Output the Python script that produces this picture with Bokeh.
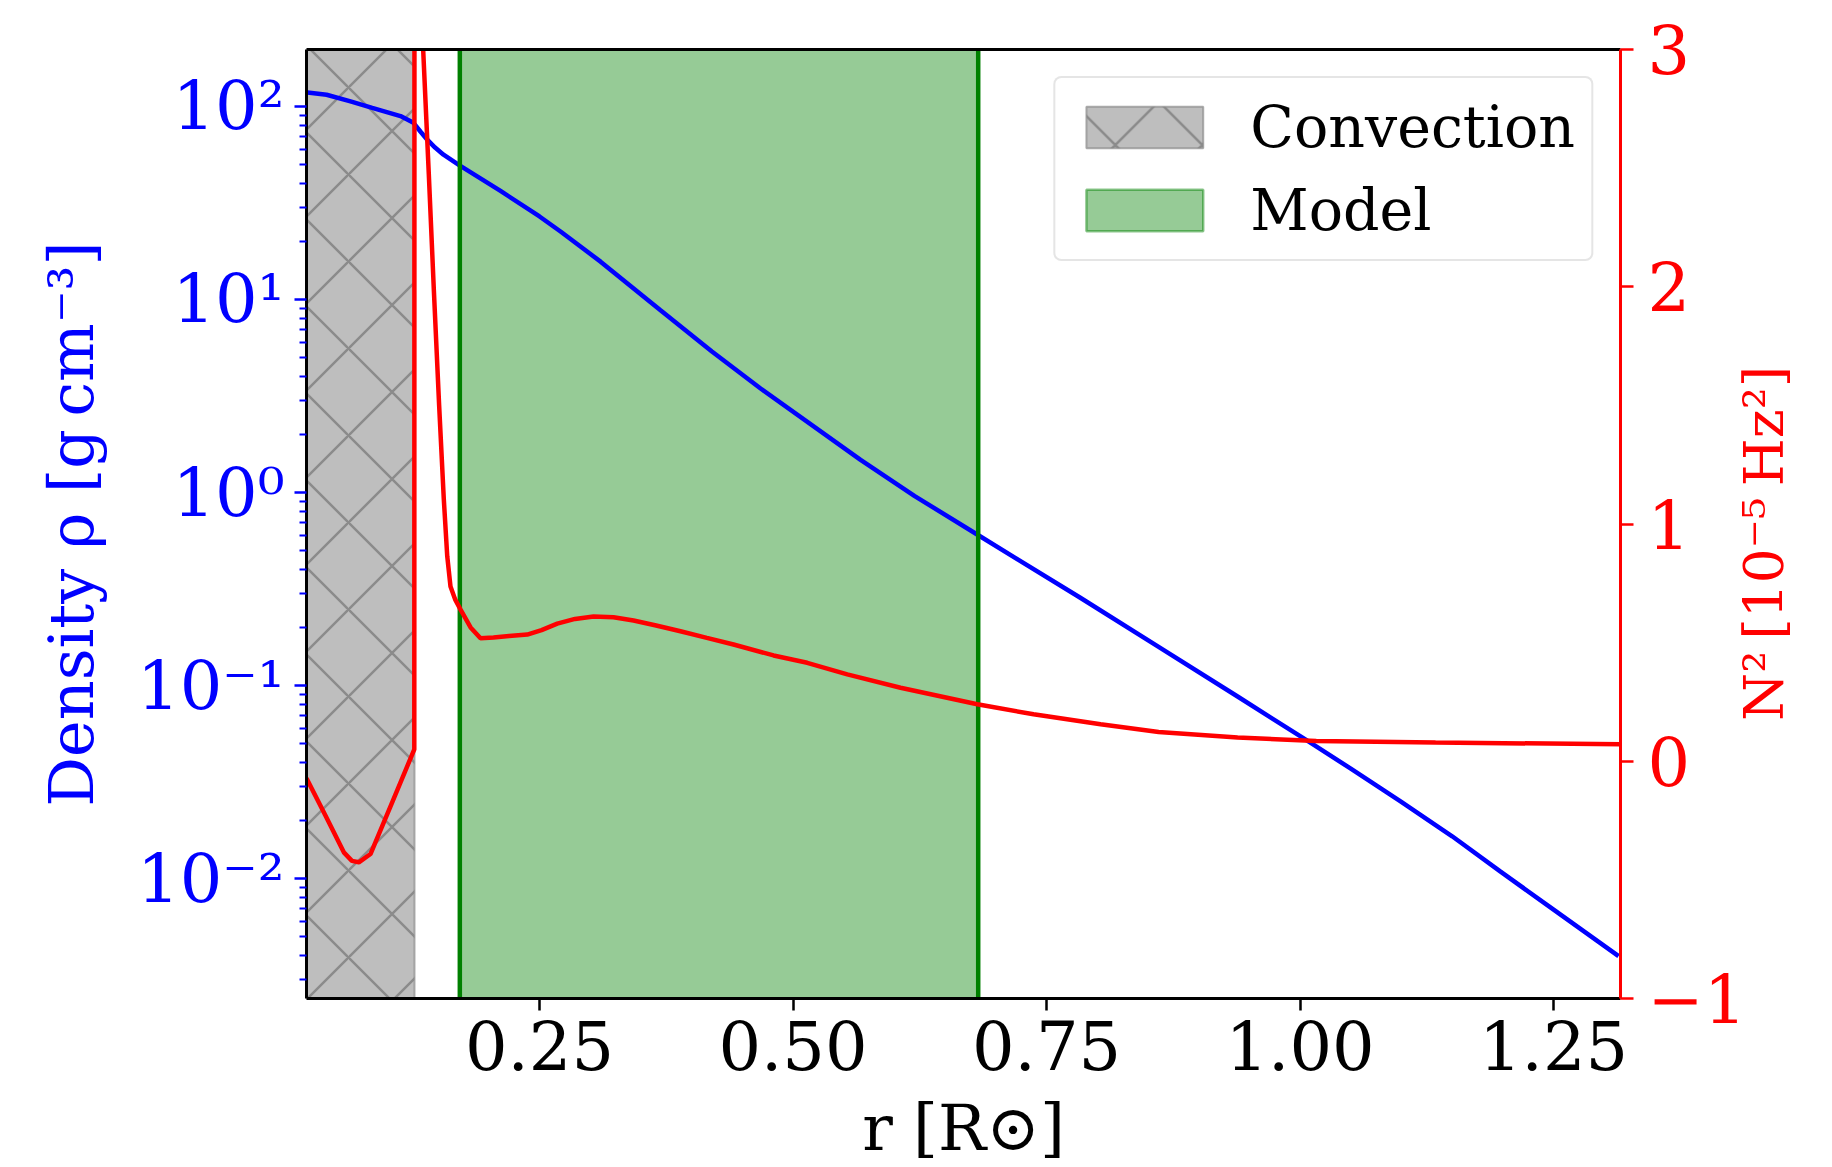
import math
from bokeh.plotting import figure
from bokeh.models import (Range1d, LinearAxis, LinearScale, FixedTicker, NumeralTickFormatter,
                          Legend, LegendItem)
from bokeh.embed import file_html
from bokeh.resources import INLINE

# ---------------- data ----------------
r_density = [0.0212, 0.0400, 0.0636, 0.0850, 0.1129, 0.1257, 0.1325, 0.1395, 0.1470,
             0.1553, 0.1711, 0.2115, 0.2500, 0.2707, 0.3102, 0.3693, 0.4200, 0.4680,
             0.5666, 0.6200, 0.6820, 0.7825, 0.8605, 0.9384, 1.0044, 1.0500, 1.0991,
             1.1500, 1.1977, 1.2500, 1.3141]
density = [118.0, 114.8, 106.2, 98.2, 89.1, 82.2, 74.1, 67.0, 61.2,
           56.2, 49.5, 36.5, 26.9, 22.5, 15.7, 8.79, 5.38, 3.46,
           1.476, 0.959, 0.605, 0.287, 0.159, 0.0879, 0.0530, 0.0372, 0.0252,
           0.0166, 0.01089, 0.00693, 0.00398]

r_n2 = [0.0202, 0.0400, 0.0570, 0.0650, 0.0718, 0.0833, 0.1050, 0.1265, 0.1268, 0.1300,
        0.1330, 0.1353, 0.1408, 0.1458, 0.1510, 0.1556, 0.1590, 0.1622, 0.1670, 0.1720,
        0.1820, 0.1918, 0.2046, 0.2200, 0.2379, 0.2520, 0.2675, 0.2850, 0.3033, 0.3230,
        0.3427, 0.3650, 0.3890, 0.4150, 0.4413, 0.4808, 0.5140, 0.5535, 0.6060, 0.6817,
        0.7372, 0.8033, 0.8605, 0.9384, 1.0160, 1.1336, 1.3160]
n2 = [-0.072, -0.238, -0.384, -0.420, -0.426, -0.391, -0.170, 0.050, 6.0, 6.5,
      5.0, 2.995, 2.476, 1.985, 1.500, 1.105, 0.864, 0.737, 0.680, 0.640,
      0.564, 0.518, 0.522, 0.528, 0.534, 0.553, 0.580, 0.600, 0.610, 0.607,
      0.593, 0.572, 0.548, 0.520, 0.492, 0.446, 0.415, 0.366, 0.310, 0.240,
      0.198, 0.156, 0.123, 0.100, 0.085, 0.079, 0.0715]

convection_zone = [0.0, 0.1267]
model_zone = [0.1714, 0.6826]

x_ticks = [0.25, 0.50, 0.75, 1.00, 1.25]
rho_ticks = [0.01, 0.1, 1, 10, 100]
rho_tick_labels = ["10⁻²", "10⁻¹", "10⁰", "10¹", "10²"]
n2_ticks = [-1, 0, 1, 2, 3]
n2_tick_labels = ["−1", "0", "1", "2", "3"]

legend_labels = ["Convection", "Model"]
x_title = "r [R⊙]"
rho_title = "Density ρ [g\u2009cm⁻³]"
n2_title = "N²\u2009[10⁻⁵\u2009Hz²]"

# ---------------- figure ----------------
W, H = 1832, 1167
FL, FT, FR, FB = 306, 49, 1620, 1000
FONT = "DejaVu Serif"
TICK_SIZE = "67px"

y_lo, y_hi = 0.0024, 197.0
n2_lo, n2_hi = n2_ticks[0], n2_ticks[-1]

p = figure(width=W, height=H, x_range=Range1d(0.0202, 1.316), y_range=Range1d(y_lo, y_hi),
           y_axis_type="log", output_backend="svg", toolbar_location=None,
           min_border_left=FL, min_border_right=W - FR, min_border_top=FT,
           min_border_bottom=H - FB)
p.extra_y_ranges = {"n2": Range1d(n2_lo, n2_hi)}
p.extra_y_scales = {"n2": LinearScale()}
p.grid.visible = False
p.outline_line_color = None
p.background_fill_color = "white"
p.border_fill_color = "white"

# shaded zones
conv_r = p.quad(left=[convection_zone[0]], right=[convection_zone[1]], bottom=[1e-5], top=[1e5],
                fill_color="#bebebe", fill_alpha=1.0, line_color="#8c8c8c", line_alpha=0.7,
                line_width=2, hatch_pattern="x", hatch_scale=87, hatch_color="#858585",
                hatch_weight=2.5, hatch_alpha=0.9)
model_r = p.quad(left=[model_zone[0]], right=[model_zone[1]], bottom=[1e-5], top=[1e5],
                 fill_color="green", fill_alpha=0.41, line_color="green", line_alpha=0.45,
                 line_width=2.5)

# density curve
p.line(r_density, density, line_color="blue", line_width=4.5)

# model boundaries
p.segment(x0=model_zone, y0=[1e-5, 1e-5], x1=model_zone, y1=[1e5, 1e5],
          line_color="green", line_width=4.5)

# N^2 curve
p.line(r_n2, n2, y_range_name="n2", line_color="red", line_width=4.5)

# ---------------- axes ----------------
xa = p.xaxis[0]
xa.ticker = FixedTicker(ticks=x_ticks)
xa.formatter = NumeralTickFormatter(format="0.00")
xa.axis_line_color = "black"
xa.axis_line_width = 3
xa.major_tick_out = 12
xa.major_tick_in = 0
xa.major_tick_line_width = 2.5
xa.minor_tick_out = 0
xa.minor_tick_in = 0
xa.major_label_text_font = FONT
xa.major_label_text_font_size = TICK_SIZE
xa.major_label_text_color = "black"
xa.major_label_standoff = 10
xa.axis_label = x_title
xa.axis_label_text_font = FONT
xa.axis_label_text_font_size = "64px"
xa.axis_label_text_font_style = "normal"
xa.axis_label_text_color = "black"
xa.axis_label_standoff = 18

ya = p.yaxis[0]
minor = [m * 10.0 ** e for e in range(-3, 3) for m in range(2, 10)]
ya.ticker = FixedTicker(ticks=rho_ticks, minor_ticks=minor)
ya.major_label_overrides = dict(zip(rho_ticks, rho_tick_labels))
ya.axis_line_color = "black"
ya.axis_line_width = 3
ya.major_tick_out = 12
ya.major_tick_in = 0
ya.major_tick_line_color = "blue"
ya.major_tick_line_width = 2.5
ya.minor_tick_out = 7
ya.minor_tick_in = 0
ya.minor_tick_line_color = "blue"
ya.minor_tick_line_width = 2
ya.major_label_text_font = FONT
ya.major_label_text_font_size = TICK_SIZE
ya.major_label_text_color = "blue"
ya.major_label_standoff = 10
ya.axis_label = rho_title
ya.axis_label_text_font = FONT
ya.axis_label_text_font_size = "62px"
ya.axis_label_text_font_style = "normal"
ya.axis_label_text_color = "blue"
ya.axis_label_standoff = 26

ra = LinearAxis(y_range_name="n2", ticker=FixedTicker(ticks=n2_ticks),
                major_label_overrides=dict(zip(n2_ticks, n2_tick_labels)))
ra.axis_line_color = "red"
ra.axis_line_width = 3
ra.major_tick_out = 13
ra.major_tick_in = 0
ra.major_tick_line_color = "red"
ra.major_tick_line_width = 2.5
ra.minor_tick_out = 0
ra.minor_tick_in = 0
ra.major_label_text_font = FONT
ra.major_label_text_font_size = TICK_SIZE
ra.major_label_text_color = "red"
ra.major_label_standoff = 14
p.add_layout(ra, "right")

# right-hand title: a single rotated label (reads bottom-to-top); the label starts at
# its anchor and runs upward, so the anchor sits below the middle of the axis
title_anchor = 0.17
rt = LinearAxis(y_range_name="n2", ticker=FixedTicker(ticks=[title_anchor]),
                major_label_overrides={title_anchor: n2_title},
                major_label_orientation=math.pi / 2,
                axis_line_color=None, major_tick_line_color=None, minor_tick_line_color=None,
                major_tick_out=0, major_tick_in=0, minor_tick_out=0, minor_tick_in=0,
                major_label_standoff=15, major_label_text_font=FONT,
                major_label_text_font_size="55px", major_label_text_color="red")
p.add_layout(rt, "right")

ta = LinearAxis(ticker=FixedTicker(ticks=[]), major_tick_out=0, major_tick_in=0,
                minor_tick_out=0, minor_tick_in=0, major_label_text_font_size="0px",
                axis_line_color="black", axis_line_width=3)
p.add_layout(ta, "above")

# ---------------- legend ----------------
legend = Legend(items=[LegendItem(label=legend_labels[0], renderers=[conv_r]),
                       LegendItem(label=legend_labels[1], renderers=[model_r])],
                location="top_right", margin=27, padding=16, spacing=17,
                glyph_width=146, glyph_height=52, label_standoff=33,
                label_text_font=FONT, label_text_font_size="57px",
                label_text_color="black",
                border_line_color="#cccccc", border_line_width=2.5,
                background_fill_color="white", background_fill_alpha=0.8)
try:
    legend.border_radius = 8
except Exception:
    pass
p.add_layout(legend)

open("out.html", "w").write(file_html(p, INLINE))
